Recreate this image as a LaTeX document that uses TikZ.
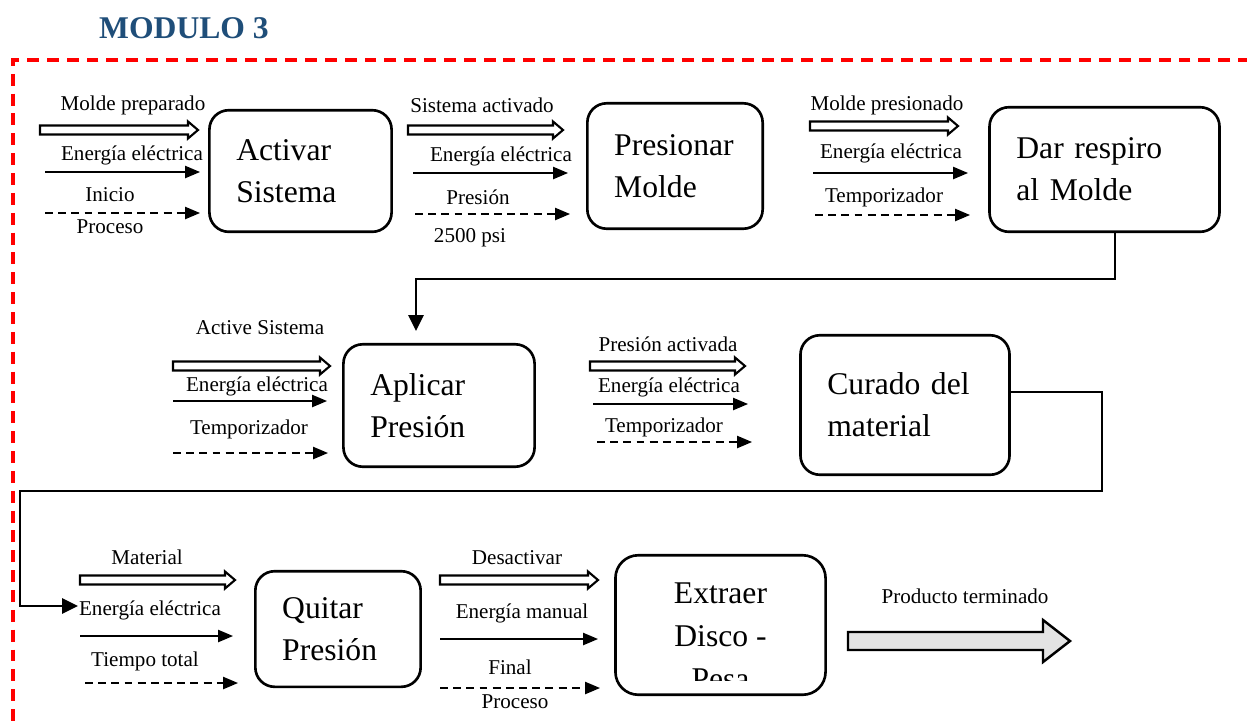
\documentclass[tikz,border=0pt]{standalone}
\usepackage{fontspec}
\setmainfont{Liberation Serif}
\usetikzlibrary{calc}
\usetikzlibrary{arrows.meta}
\definecolor{modblue}{RGB}{31,78,121}

\tikzset{
  lbl/.style={font=\fontsize{12}{14}\selectfont, inner sep=0pt},
  proc/.style={draw, line width=1.5pt, rounded corners=11pt, align=left,
    inner xsep=15.3pt, inner ysep=0pt, font=\fontsize{18}{24}\selectfont},
  blockarrow/.style n args={3}{draw, to path={
    ($(\tikztostart)+(0,-#1)$) -- ($(\tikztotarget)+(-#3,-#1)$)
    -- ($(\tikztotarget)+(-#3,-#2)$) -- (\tikztotarget)
    -- ($(\tikztotarget)+(-#3,#2)$) -- ($(\tikztotarget)+(-#3,#1)$)
    -- ($(\tikztostart)+(0,#1)$) -- cycle}},
  hollow/.style={blockarrow={4.5}{8.5}{10}, fill=white, line width=1.2pt},
  bigarrow/.style={blockarrow={9}{21}{27}, fill=gray!22, line width=1.4pt},
  elec/.style={draw, line width=0.75pt, -{Triangle[length=8.5pt,width=7pt]}},
  ctrl/.style={elec, dash pattern=on 4.5pt off 3pt},
  flow/.style={draw, line width=1.5pt, -{Triangle[length=9pt,width=8.5pt]}},
  frame/.style={draw=red, line width=2pt, dash pattern=on 6.8pt off 4.5pt}
}

\begin{document}
\begin{tikzpicture}[x=0.02cm,y=-0.02cm]
    \useasboundingbox (0,0) rectangle (1247,725);

    % frame and title
    \coordinate (F1) at (1250,60);
    \coordinate (F2) at (13,60);
    \coordinate (F3) at (13,730);
    \draw[frame] (F1)--(F2)--(F3);
    \node[font=\fontsize{18}{22}\selectfont\bfseries, text=modblue] (title) at (184,28) {MODULO 3};

    % activities
    \node[proc, text width=73.1pt, minimum height=69.2pt] (act) at (300.5,171) {Activar\\Sistema};
    \node[proc, text width=69.2pt, minimum height=71.4pt] (pre) at (675,166) {Presionar\\Molde};
    \node[proc, text width=100.3pt, minimum height=70.9pt] (dar) at (1104.5,169.5) {Dar respiro\\al Molde};
    \node[proc, text width=78.2pt, minimum height=69.7pt] (apl) at (439,405.5) {Aplicar\\Presión};
    \node[proc, text width=88.4pt, minimum height=79.4pt] (cur) at (905,405) {Curado del\\material};
    \node[proc, text width=63.5pt, minimum height=65.8pt] (qui) at (338,629) {Quitar\\Presión};
    \node[draw, line width=1.5pt, rounded corners=13pt, minimum width=119.6pt, minimum height=79.4pt] (ext) at (720.5,625) {};
    \begin{scope}
      \clip (615,555) rectangle (826,680);
      \node[font=\fontsize{18}{24.4}\selectfont, align=center, inner sep=0pt] (extt) at (720.5,636) {Extraer\\Disco -\\Pesa};
    \end{scope}

    % inputs
    \foreach \nm/\xa/\xb/\yy in {h1/40/198/130, h2/408/563/130, h3/810/958/126,
        h4/173/330/366, h5/590/745/366, h6/80/235/580, h7/440/598/580}{
      \coordinate (s\nm) at (\xa,\yy);
      \coordinate (e\nm) at (\xb,\yy);
      \draw[hollow] (s\nm) to (e\nm);
    }
    \foreach \nm/\xa/\xb/\yy in {e1/45/200/172, e2/413/568/173, e3/813/968/173,
        e4/173/327/401, e5/593/748/404, e6/80/233/636, e7/440/598/639}{
      \coordinate (s\nm) at (\xa,\yy);
      \coordinate (e\nm) at (\xb,\yy);
      \draw[elec] (s\nm) -- (e\nm);
    }
    \foreach \nm/\xa/\xb/\yy in {d1/45/200/213, d2/415/570/214, d3/815/970/215,
        d4/173/328/453, d5/597/752/442, d6/85/238/683, d7/440/600/688}{
      \coordinate (s\nm) at (\xa,\yy);
      \coordinate (e\nm) at (\xb,\yy);
      \draw[ctrl] (s\nm) -- (e\nm);
    }

    % labels
    \foreach \nm/\xx/\yy/\tx in {l1a/133/105/Molde preparado, l1b/132/155/Energía eléctrica,
        l1c/110/195/Inicio, l1d/110/227/Proceso,
        l2a/482/105/Sistema activado, l2b/501/156/Energía eléctrica,
        l2c/478/197/Presión, l2d/470/238/2500 psi,
        l3a/887/105/Molde presionado, l3b/891/153/Energía eléctrica, l3c/884/197/Temporizador,
        l4a/260/328/Active Sistema, l4b/257/386/Energía eléctrica, l4c/249/429/Temporizador,
        l5a/668/344/Presión activada, l5b/669/387/Energía eléctrica, l5c/664/427/Temporizador,
        l6a/147/557/Material, l6b/150/610/Energía eléctrica, l6c/145/661/Tiempo total,
        l7a/517/558/Desactivar, l7b/522/613/Energía manual, l7c/510/667/Final, l7d/515/702/Proceso,
        lout/965/596/Producto terminado}{
      \node[lbl] (\nm) at (\xx,\yy) {\tx};
    }

    % links between rows
    \coordinate (c1) at (1115,279);
    \coordinate (c2) at (416,279);
    \draw[flow, shorten >=6.8pt] (c1 |- dar.south)--(c1)--(c2)--(c2 |- apl.north);
    \coordinate (c3) at (1102,392);
    \coordinate (c4) at (1102,491);
    \coordinate (c5) at (20,491);
    \coordinate (c6) at (20,606);
    \coordinate (c7) at (78,606);
    \draw[flow] (c3 -| cur.east)--(c3)--(c4)--(c5)--(c6)--(c7);

    % output
    \coordinate (outs) at (848,641);
    \coordinate (oute) at (1070,641);
    \draw[bigarrow] (outs) to (oute);
  \end{tikzpicture}
\end{document}
